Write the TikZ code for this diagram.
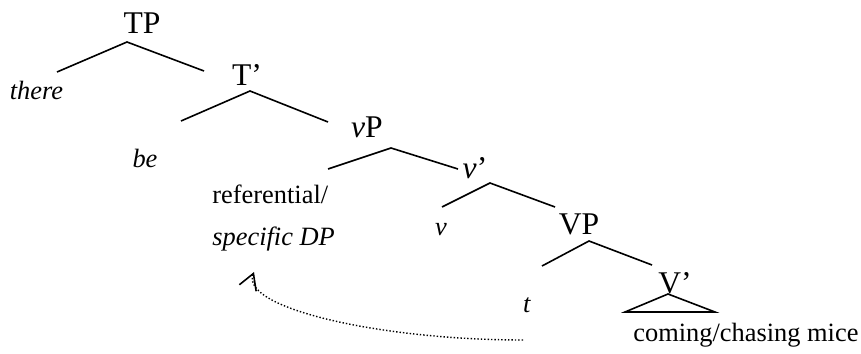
\documentclass[tikz,border=0pt]{standalone}
\usepackage{fontspec}
\setmainfont{Liberation Serif}
\usetikzlibrary{arrows.meta}

\tikzset{
	lbl/.style={font=\fontsize{13.2}{16}\selectfont, inner sep=0pt},
	cat/.style={font=\fontsize{15.8}{19}\selectfont, inner sep=0pt},
	branch/.style={line width=0.8pt},
	trace/.style={line width=0.7pt, densely dotted},
}

\begin{document}
\begin{tikzpicture}[x=0.5pt,y=-0.5pt]
	\useasboundingbox (0,0) rectangle (861,353);
	
	\node[cat,anchor=base] (TP) at (142,34) {TP};
	\node[lbl,anchor=base] (there) at (36.5,100) {\textit{there}};
	\node[cat,anchor=base] (Tbar) at (247,86) {T’};
	\node[lbl,anchor=base] (be) at (145,167) {\textit{be}};
	\node[cat,anchor=base] (vP) at (367,137) {\textit{v}P};
	\node[cat,anchor=base] (vbar) at (475,178) {\textit{v}’};
	\node[lbl,anchor=base west] (refdp) at (212,203) {referential/};
	\node[lbl,anchor=base west] (specdp) at (212,245) {\textit{specific DP}};
	\node[lbl,anchor=base] (v) at (441,235) {\textit{v}};
	\node[cat,anchor=base] (VP) at (579,234) {VP};
	\node[lbl,anchor=base] (t) at (527,312) {\textit{t}};
	\node[cat,anchor=base] (Vbar) at (675,293) {V’};
	\node[lbl,anchor=base west] (mice) at (633,341) {coming/chasing mice};
	
	\coordinate (TP-a) at (127,42);
	\coordinate (TP-l) at (57,72);
	\coordinate (TP-r) at (204,71);
	\coordinate (Tbar-a) at (250,91);
	\coordinate (Tbar-l) at (181,121);
	\coordinate (Tbar-r) at (328,122);
	\coordinate (vP-a) at (391,148);
	\coordinate (vP-l) at (328,169);
	\coordinate (vP-r) at (458,169);
	\coordinate (vbar-a) at (490,183);
	\coordinate (vbar-l) at (442,207);
	\coordinate (vbar-r) at (555,207);
	\coordinate (VP-a) at (589,241);
	\coordinate (VP-l) at (542,266);
	\coordinate (VP-r) at (652,265);
	\coordinate (Vbar-a) at (668,294);
	\coordinate (Vbar-l) at (625,312);
	\coordinate (Vbar-r) at (715,312);
	
	\draw[branch] (TP-l) -- (TP-a) -- (TP-r);
	\draw[branch] (Tbar-l) -- (Tbar-a) -- (Tbar-r);
	\draw[branch] (vP-l) -- (vP-a) -- (vP-r);
	\draw[branch] (vbar-l) -- (vbar-a) -- (vbar-r);
	\draw[branch] (VP-l) -- (VP-a) -- (VP-r);
	\draw[branch] (Vbar-l) -- (Vbar-a) -- (Vbar-r) -- cycle;
	
	\coordinate (move-s) at (523,340);
	\coordinate (move-e) at (254,272);
	\draw[trace,-{Straight Barb[angle=60:9pt,line width=0.8pt]}] (move-s) .. controls (380,340) and (240,308) .. (move-e);
\end{tikzpicture}
\end{document}
